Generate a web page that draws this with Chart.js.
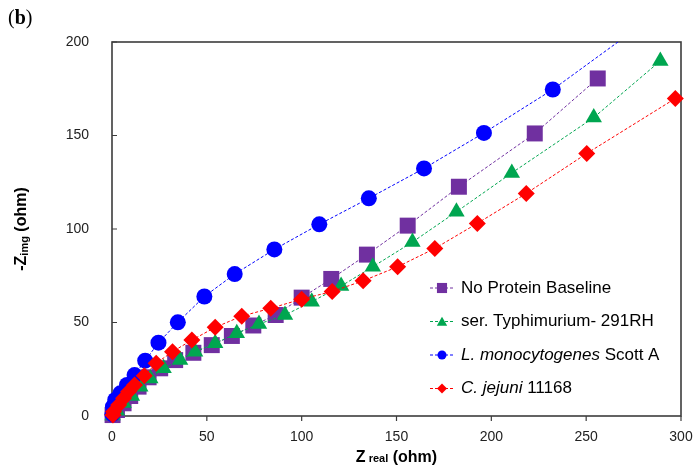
<!DOCTYPE html>
<html><head><meta charset="utf-8">
<script src="https://cdn.jsdelivr.net/npm/chart.js@4.4.0/dist/chart.umd.min.js"></script>
<style>html,body{margin:0;padding:0;background:#fff;}#wrap{position:relative;width:700px;height:473px;}</style>
</head><body><div id="wrap"><canvas id="c" width="700" height="473"></canvas></div>
<script>
// ---- data ----
const xTickValues = [0, 50, 100, 150, 200, 250, 300];
const yTickValues = [0, 50, 100, 150, 200];
const seriesLabels = ['No Protein Baseline', 'ser. Typhimurium- 291RH', 'L. monocytogenes Scott A', 'C. jejuni 11168'];
const seriesItalicPart = ['', '', 'L. monocytogenes', 'C. jejuni'];

const baselineX = [0.3, 2.6, 6.1, 9.6, 14.0, 19.3, 25.4, 33.3, 42.9, 52.6, 63.2, 74.5, 86.3, 100.0, 115.6, 134.4, 155.9, 182.9, 222.9, 256.1];
const baselineY = [0.5, 3.2, 6.8, 10.7, 15.7, 20.7, 25.5, 29.9, 33.8, 37.9, 42.8, 48.4, 54.0, 63.3, 73.3, 86.3, 101.8, 122.6, 151.1, 180.5];

const typhiX = [0.3, 2.6, 6.1, 10.5, 14.9, 20.2, 27.2, 35.9, 43.8, 54.4, 65.8, 77.5, 91.2, 105.3, 120.8, 137.5, 158.4, 181.6, 210.8, 254.0, 289.1];
const typhiY = [0.3, 2.8, 6.9, 10.7, 15.7, 20.1, 25.5, 29.9, 34.4, 38.9, 44.2, 49.2, 54.0, 61.1, 69.5, 79.8, 93.0, 109.2, 130.0, 159.6, 189.9];

const listeriaX = [0.2, 0.5, 1.7, 4.4, 7.9, 11.9, 17.5, 24.5, 34.7, 48.7, 64.7, 85.6, 109.3, 135.4, 164.5, 196.1, 232.4, 283.0];
const listeriaY = [1.0, 5.0, 8.6, 12.1, 16.6, 21.9, 29.6, 39.2, 50.1, 63.9, 75.9, 89.1, 102.5, 116.4, 132.4, 151.4, 174.6, 212.0];

const jejuniX = [0.5, 0.8, 3.5, 6.1, 8.7, 11.9, 17.0, 23.3, 31.9, 42.1, 54.4, 68.4, 83.7, 100.0, 116.1, 132.4, 150.6, 170.2, 192.6, 218.4, 250.3, 297.0];
const jejuniY = [0.5, 2.3, 5.9, 9.5, 13.0, 16.6, 21.5, 28.2, 34.4, 40.6, 47.4, 53.4, 57.6, 62.5, 66.6, 72.3, 79.8, 89.6, 103.0, 119.0, 140.4, 169.8];

// ---- build ----
const FONT = "'Liberation Sans', Arial, Helvetica, sans-serif";
const pts = (xs, ys) => xs.map((x, i) => ({x: x, y: ys[i]}));
const colors = ['#7030A0', '#00A650', '#0000FF', '#FF0000'];
const styles = ['rect', 'triangle', 'circle', 'rectRot'];
const radii = [11.3, 9.5, 8, 8.5];
const legendRadii = [5.5, 6, 4.5, 5];
const allData = [pts(baselineX, baselineY), pts(typhiX, typhiY), pts(listeriaX, listeriaY), pts(jejuniX, jejuniY)];

const datasets = allData.map((d, i) => ({
  label: seriesLabels[i],
  data: d,
  showLine: true,
  borderColor: colors[i],
  borderWidth: 1,
  borderDash: [3, 2],
  backgroundColor: colors[i],
  pointStyle: styles[i],
  pointRadius: radii[i],
  pointBackgroundColor: colors[i],
  pointBorderWidth: 0,
  order: 4 - i,
  clip: i === 2 ? {left: 12, top: 0, right: 0, bottom: 12} : 14
}));

function marker(ctx, style, x, y, r) {
  ctx.beginPath();
  if (style === 'circle') ctx.arc(x, y, r, 0, Math.PI * 2);
  else if (style === 'rect') { const s = r * Math.SQRT1_2 * 1.3; ctx.rect(x - s, y - s, 2 * s, 2 * s); }
  else if (style === 'triangle') {
    for (let k = 0; k < 3; k++) {
      const a = k * 2 * Math.PI / 3;
      const px = x + Math.sin(a) * r, py = y - Math.cos(a) * r + r * 0.2;
      k ? ctx.lineTo(px, py) : ctx.moveTo(px, py);
    }
  } else if (style === 'rectRot') {
    ctx.moveTo(x - r, y); ctx.lineTo(x, y - r); ctx.lineTo(x + r, y); ctx.lineTo(x, y + r);
  }
  ctx.closePath();
  ctx.fill();
}

const framePlugin = {
  id: 'frame',
  beforeDatasetsDraw(chart) {
    const {ctx, chartArea: a, scales} = chart;
    ctx.save();
    ctx.strokeStyle = '#3c3c3c';
    ctx.lineWidth = 1.6;
    ctx.strokeRect(a.left, a.top, a.right - a.left, a.bottom - a.top);
    ctx.lineWidth = 1.2;
    ctx.beginPath();
    xTickValues.forEach(v => { const px = scales.x.getPixelForValue(v); ctx.moveTo(px, a.bottom); ctx.lineTo(px, a.bottom + 5); });
    yTickValues.forEach(v => { const py = scales.y.getPixelForValue(v); ctx.moveTo(a.left, py); ctx.lineTo(a.left + 5, py); });
    ctx.stroke();
    ctx.restore();
  },
  afterDraw(chart) {
    const {ctx, chartArea: a} = chart;
    ctx.save();
    // panel letter
    ctx.fillStyle = '#000';
    ctx.textBaseline = 'alphabetic';
    ctx.textAlign = 'left';
    ctx.font = "20px 'Liberation Serif', 'Times New Roman', serif";
    let x0 = 8;
    ctx.fillText('(', x0, 24); x0 += ctx.measureText('(').width;
    ctx.font = "bold 20px 'Liberation Serif', 'Times New Roman', serif";
    ctx.fillText('b', x0, 24); x0 += ctx.measureText('b').width;
    ctx.font = "20px 'Liberation Serif', 'Times New Roman', serif";
    ctx.fillText(')', x0, 24);

    // x title
    ctx.fillStyle = '#000';
    const big = 'bold 16px ' + FONT, small = 'bold 11px ' + FONT;
    const parts = [['Z', big], [' real', small], [' (ohm)', big]];
    let w = 0; parts.forEach(p => { ctx.font = p[1]; w += ctx.measureText(p[0]).width; });
    let xx = (a.left + a.right) / 2 - w / 2;
    parts.forEach(p => { ctx.font = p[1]; ctx.fillText(p[0], xx, 462); xx += ctx.measureText(p[0]).width; });

    // y title
    const yparts = [['-Z', big], ['img', small], [' (ohm)', big]];
    ctx.save();
    ctx.translate(26, (a.top + a.bottom) / 2);
    ctx.rotate(-Math.PI / 2);
    w = 0; yparts.forEach(p => { ctx.font = p[1]; w += ctx.measureText(p[0]).width; });
    xx = -w / 2;
    yparts.forEach((p, i) => { ctx.font = p[1]; ctx.fillText(p[0], xx, i === 1 ? 2 : 0); xx += ctx.measureText(p[0]).width; });
    ctx.restore();

    // legend
    const rowY = [288, 321.5, 355, 388.5];
    chart.data.datasets.forEach((ds, i) => {
      const y = rowY[i];
      ctx.strokeStyle = ds.borderColor;
      ctx.lineWidth = 1;
      ctx.setLineDash([3, 2]);
      ctx.beginPath(); ctx.moveTo(430, y); ctx.lineTo(455, y); ctx.stroke();
      ctx.setLineDash([]);
      ctx.fillStyle = ds.backgroundColor;
      marker(ctx, ds.pointStyle, 442, y, legendRadii[i]);
      ctx.fillStyle = '#000';
      ctx.textBaseline = 'middle';
      let tx = 461;
      const it = seriesItalicPart[i];
      if (it) {
        ctx.font = 'italic 17px ' + FONT;
        ctx.fillText(it, tx, y); tx += ctx.measureText(it).width;
      }
      ctx.font = '17px ' + FONT;
      ctx.fillText(ds.label.slice(it.length), tx, y);
    });
    ctx.restore();
  }
};

new Chart(document.getElementById('c'), {
  type: 'scatter',
  data: {datasets: datasets},
  options: {
    responsive: false,
    animation: false,
    events: [],
    layout: {padding: {top: 42, right: 19, left: 0, bottom: 0}},
    plugins: {legend: {display: false}, tooltip: {enabled: false}, title: {display: false}},
    scales: {
      x: {
        type: 'linear', min: 0, max: 300,
        afterBuildTicks: s => { s.ticks = xTickValues.map(v => ({value: v})); },
        afterFit: s => { s.height = 57; },
        ticks: {font: {size: 14, family: FONT}, color: '#222', padding: 5, maxRotation: 0},
        grid: {display: false}, border: {display: false}
      },
      y: {
        type: 'linear', min: 0, max: 200,
        afterBuildTicks: s => { s.ticks = yTickValues.map(v => ({value: v})); },
        afterFit: s => { s.width = 112; },
        ticks: {font: {size: 14, family: FONT}, color: '#222', padding: 15},
        grid: {display: false}, border: {display: false}
      }
    }
  },
  plugins: [framePlugin]
});
</script>
</body></html>
